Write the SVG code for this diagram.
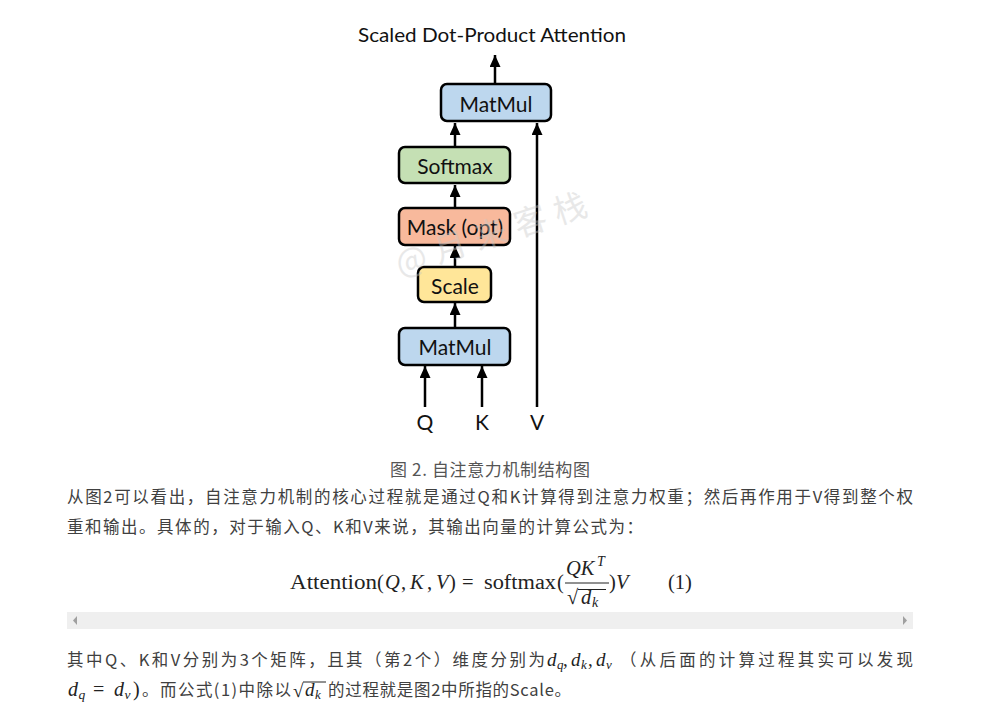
<svg xmlns="http://www.w3.org/2000/svg" width="999" height="715" viewBox="0 0 999 715">
<defs>
<marker id="ah" markerUnits="userSpaceOnUse" markerWidth="12" markerHeight="13" refX="12" refY="5.5" orient="auto">
<path d="M0,0 L12,5.5 L0,11 z" fill="#000"/>
</marker>
<style>
.box{stroke:#000;stroke-width:2.5}
.lbl{font-family:Lato,"Open Sans",sans-serif;font-size:21px;fill:#111;text-anchor:middle;dominant-baseline:central}
.con{stroke:#000;stroke-width:2.5;fill:none}
.p{font-family:"Noto Sans CJK SC","Noto Sans",sans-serif;font-size:16.5px;fill:#404040}
.m{font-family:"Liberation Serif","DejaVu Serif",serif;fill:#222}
.mi{font-family:"Liberation Serif","DejaVu Serif",serif;font-style:italic;fill:#222}
</style>
</defs>
<rect width="999" height="715" fill="#fff"/>
<text x="358" y="42" font-family="Lato,'Open Sans',sans-serif" font-size="20" fill="#111" textLength="268" lengthAdjust="spacingAndGlyphs">Scaled Dot-Product Attention</text>

<g id="connectors">
<line class="con" x1="495" y1="84" x2="495" y2="55" marker-end="url(#ah)"/>
<line class="con" x1="455" y1="147" x2="455" y2="123" marker-end="url(#ah)"/>
<line class="con" x1="537" y1="407" x2="537" y2="123" marker-end="url(#ah)"/>
<line class="con" x1="455" y1="208" x2="455" y2="185" marker-end="url(#ah)"/>
<line class="con" x1="455" y1="267" x2="455" y2="246" marker-end="url(#ah)"/>
<line class="con" x1="455" y1="328" x2="455" y2="303" marker-end="url(#ah)"/>
<line class="con" x1="425" y1="407" x2="425" y2="366" marker-end="url(#ah)"/>
<line class="con" x1="482" y1="407" x2="482" y2="366" marker-end="url(#ah)"/>
</g>

<g id="matmul-top"><rect class="box" x="441" y="84" width="110" height="37" rx="6" fill="#bdd7ee"/><text class="lbl" x="496" y="103">MatMul</text></g>
<g id="softmax"><rect class="box" x="399" y="147" width="111" height="36" rx="6" fill="#c5e0b4"/><text class="lbl" x="455" y="165">Softmax</text></g>
<g id="mask"><rect class="box" x="399" y="208" width="111" height="37" rx="6" fill="#f8b99c"/><text class="lbl" x="455" y="226">Mask (opt)</text></g>
<g id="scale"><rect class="box" x="418" y="267" width="73" height="35" rx="6" fill="#ffe699"/><text class="lbl" x="455" y="285">Scale</text></g>
<g id="matmul-bottom"><rect class="box" x="399" y="328" width="111" height="37" rx="6" fill="#bdd7ee"/><text class="lbl" x="455" y="346">MatMul</text></g>

<g id="inputs" font-family="Lato,'Open Sans',sans-serif" font-size="21" fill="#111" text-anchor="middle">
<text x="425" y="430">Q</text>
<text x="482" y="430">K</text>
<text x="537" y="430">V</text>
</g>

<text x="400" y="276" transform="rotate(-18 400 276)" font-family="'Noto Sans CJK SC',sans-serif" font-size="33" fill="#c8c8c8" opacity="0.4" letter-spacing="9">@月来客栈</text>

<text x="390" y="476" font-family="'Noto Sans CJK SC','Noto Sans',sans-serif" font-size="17" fill="#555" textLength="200" lengthAdjust="spacing">图 2. 自注意力机制结构图</text>

<text class="p" x="67" y="503" textLength="846" lengthAdjust="spacing">从图2可以看出，自注意力机制的核心过程就是通过Q和K计算得到注意力权重；然后再作用于V得到整个权</text>
<text class="p" x="67" y="533" textLength="576" lengthAdjust="spacing">重和输出。具体的，对于输入Q、K和V来说，其输出向量的计算公式为：</text>

<g id="formula" font-size="20.5">
<text class="m" x="290" y="589" textLength="87" lengthAdjust="spacingAndGlyphs">Attention</text>
<text class="m" x="377" y="589">(</text>
<text class="mi" x="385" y="589">Q</text>
<text class="m" x="401" y="589">,</text>
<text class="mi" x="410" y="589">K</text>
<text class="m" x="427" y="589">,</text>
<text class="mi" x="436" y="589">V</text>
<text class="m" x="449" y="589">)</text>
<text class="m" x="462" y="589">=</text>
<text class="m" x="484" y="589" textLength="72" lengthAdjust="spacingAndGlyphs">softmax</text>
<text class="m" x="557" y="589">(</text>
<text class="mi" x="566" y="575">QK</text>
<text class="mi" x="597" y="566" font-size="14">T</text>
<line x1="565" y1="583" x2="609" y2="583" stroke="#222" stroke-width="1"/>
<text class="m" x="567" y="604">√</text>
<line x1="578" y1="589.5" x2="606" y2="589.5" stroke="#222" stroke-width="1"/>
<text class="mi" x="581" y="604">d</text>
<text class="mi" x="592" y="607" font-size="14">k</text>
<text class="m" x="609" y="589">)</text>
<text class="mi" x="616" y="589">V</text>
<text class="m" x="668" y="589">(1)</text>
</g>

<g id="scrollbar">
<rect x="67" y="612" width="846" height="17" fill="#efefef"/>
<path d="M77,616 L73,620.5 L77,625 z" fill="#a0a0a0"/>
<path d="M903,616 L907,620.5 L903,625 z" fill="#a0a0a0"/>
</g>

<text class="p" x="67" y="666" textLength="478" lengthAdjust="spacing">其中Q、K和V分别为3个矩阵，且其（第2个）维度分别为</text>
<g font-size="19">
<text class="mi" x="547" y="666">d</text><text class="mi" x="557" y="669" font-size="13">q</text><text class="m" x="563" y="666">,</text>
<text class="mi" x="571" y="666">d</text><text class="mi" x="581" y="669" font-size="13">k</text><text class="m" x="588" y="666">,</text>
<text class="mi" x="596" y="666">d</text><text class="mi" x="606" y="669" font-size="13">v</text>
</g>
<text class="p" x="620" y="666" textLength="293" lengthAdjust="spacing">（从后面的计算过程其实可以发现</text>

<g font-size="20">
<text class="mi" x="68" y="696">d</text><text class="mi" x="78.5" y="699" font-size="13.5">q</text>
<text class="m" x="93" y="696">=</text>
<text class="mi" x="114" y="696">d</text><text class="mi" x="124.5" y="699" font-size="13.5">v</text>
<text class="m" x="133" y="696">)</text>
</g>
<text class="p" x="142" y="696" textLength="149" lengthAdjust="spacing">。而公式(1)中除以</text>
<text class="m" x="293" y="697" font-size="19">√</text>
<line x1="303" y1="682" x2="326" y2="682" stroke="#222" stroke-width="1"/>
<text class="mi" x="305" y="696" font-size="19">d</text><text class="mi" x="315" y="699" font-size="13">k</text>
<text class="p" x="328" y="696" textLength="243" lengthAdjust="spacing">的过程就是图2中所指的Scale。</text>
</svg>
